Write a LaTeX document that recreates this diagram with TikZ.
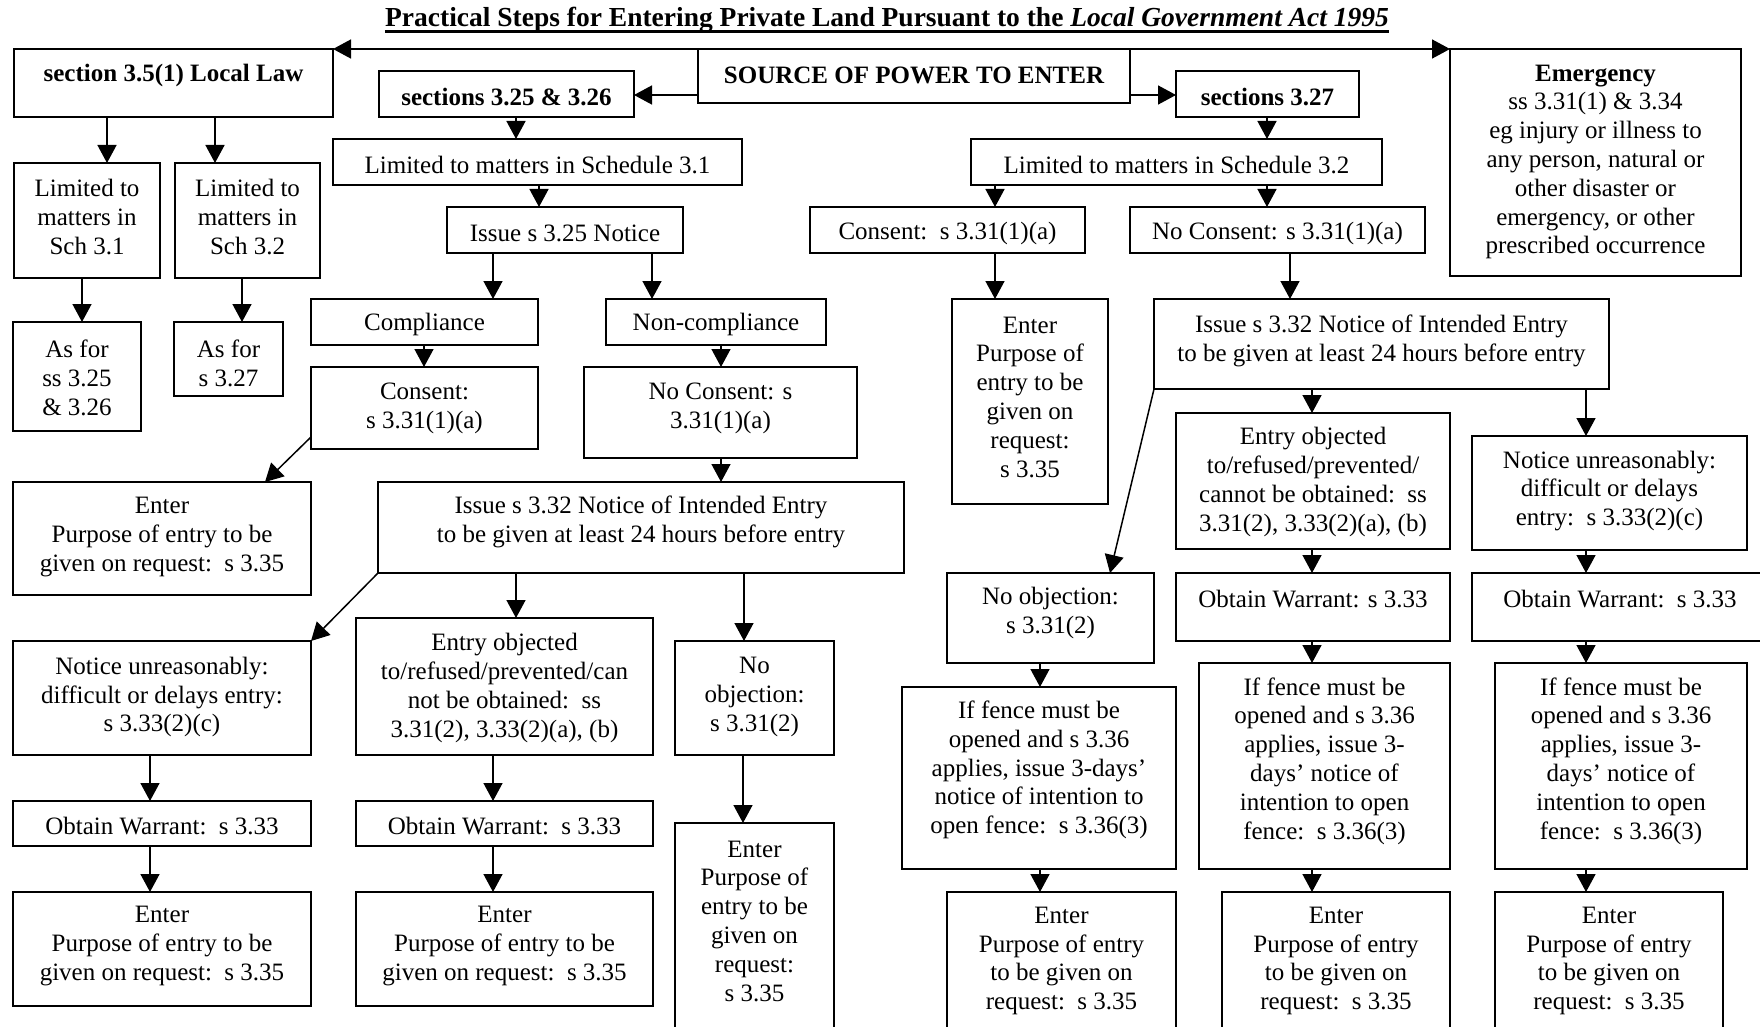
\documentclass[tikz,border=0pt]{standalone}
\usepackage{fontspec}
\setmainfont{Liberation Serif}
\usetikzlibrary{arrows.meta}
\tikzset{
  bx/.style={draw, line width=1.8pt, inner sep=0pt, outer sep=0pt},
  tx/.style={align=center, inner sep=0pt, font=\fontsize{25}{28.8}\selectfont},
  arr/.style={line width=1.5pt, -{Triangle[length=18pt,width=19pt]}},
  darr/.style={line width=1.5pt, {Triangle[length=18pt,width=19pt]}-{Triangle[length=18pt,width=19pt]}},
}
\newcommand\bx[5]{\node[bx, minimum width={(#4)-(#2)}, minimum height={(#5)-(#3)}] (#1) at ({((#2)+(#4))/2},{((#3)+(#5))/2}) {};}
\newcommand\tx[4]{\node[tx] (#1) at (#2.center |- 0,#3) {#4};}
\newcommand\va[3]{\draw[arr] (#1.south -| #3,0) -- (#2.north -| #3,0);}
\begin{document}
\begin{tikzpicture}[x=1pt,y=-1pt]
\useasboundingbox (0,0) rectangle (1760,1027);
\fill[white] (0,0) rectangle (1760,1027);
\clip (0,0) rectangle (1760,1027);

% title
\node[tx, font=\fontsize{27.5}{30}\selectfont\bfseries] (title) at (887,20) {Practical Steps for Entering Private Land Pursuant to the \textit{Local Government Act 1995}};
\draw[line width=2.5pt] ([yshift=-5pt]title.base west) -- ([yshift=-5pt]title.base east);

% boxes
\bx{sec35}{14}{49}{333}{117}
\bx{source}{698}{49}{1130}{103}
\bx{s2526}{379}{71}{634}{117}
\bx{s327}{1176}{71}{1359}{117}
\bx{emerg}{1450}{49}{1741}{276}
\bx{sch31a}{14}{163}{160}{278}
\bx{sch32a}{175}{163}{320}{278}
\bx{asfor1}{13}{322}{141}{431}
\bx{asfor2}{174}{322}{283}{396}
\bx{lim31}{333}{139}{742}{185}
\bx{iss325}{447}{207}{683}{253}
\bx{compl}{311}{299}{538}{345}
\bx{noncompl}{606}{299}{826}{345}
\bx{consent}{311}{367}{538}{449}
\bx{noconsent}{584}{367}{857}{458}
\bx{enterL}{13}{482}{311}{595}
\bx{iss332L}{378}{482}{904}{573}
\bx{noticeL}{13}{641}{311}{755}
\bx{entobjL}{356}{618}{653}{755}
\bx{noobjL}{675}{641}{834}{755}
\bx{warrL}{13}{801}{311}{846}
\bx{warrM}{356}{801}{653}{846}
\bx{enterBL}{13}{892}{311}{1006}
\bx{enterBM}{356}{892}{653}{1006}
\bx{enterBR}{675}{823}{834}{1045}
\bx{lim32}{971}{139}{1382}{185}
\bx{consR}{810}{207}{1085}{253}
\bx{noconsR}{1130}{207}{1425}{253}
\bx{enterR}{952}{299}{1108}{504}
\bx{iss332R}{1154}{299}{1609}{389}
\bx{entobjR}{1176}{413}{1450}{549}
\bx{noticeR}{1472}{436}{1747}{550}
\bx{noobjR}{947}{573}{1154}{663}
\bx{warrRM}{1176}{573}{1450}{641}
\bx{warrR}{1472}{573}{1768}{641}
\bx{fenceA}{902}{687}{1176}{869}
\bx{fenceB}{1199}{663}{1450}{869}
\bx{fenceC}{1495}{663}{1747}{869}
\bx{enterRA}{947}{892}{1176}{1045}
\bx{enterRB}{1222}{892}{1450}{1045}
\bx{enterRC}{1495}{892}{1723}{1045}

% texts
\tx{sec35t}{sec35}{75}{\bfseries section 3.5(1) Local Law}
\tx{sourcet}{source}{75}{\bfseries SOURCE OF POWER TO ENTER}
\tx{s2526t}{s2526}{97}{\bfseries sections 3.25 \& 3.26}
\tx{s327t}{s327}{97}{\bfseries sections 3.27}
\tx{emergt}{emerg}{162}{\textbf{Emergency}\\ss 3.31(1) \& 3.34\\eg injury or illness to\\any person, natural or\\other disaster or\\emergency, or other\\prescribed occurrence}
\tx{sch31at}{sch31a}{217}{Limited to\\matters in\\Sch 3.1}
\tx{sch32at}{sch32a}{217}{Limited to\\matters in\\Sch 3.2}
\tx{asfor1t}{asfor1}{378}{As for\\ss 3.25\\\& 3.26}
\tx{asfor2t}{asfor2}{363}{As for\\s 3.27}
\tx{lim31t}{lim31}{165}{Limited to matters in Schedule 3.1}
\tx{iss325t}{iss325}{233}{Issue s 3.25 Notice}
\tx{complt}{compl}{324}{Compliance}
\tx{noncomplt}{noncompl}{324}{Non-compliance}
\tx{consentt}{consent}{408}{Consent:\\s 3.31(1)(a)}
\tx{noconsentt}{noconsent}{408}{No Consent: s\\3.31(1)(a)}
\tx{enterLt}{enterL}{537}{Enter\\Purpose of entry to be\\given on request:\ \ s 3.35}
\tx{iss332Lt}{iss332L}{522}{Issue s 3.32 Notice of Intended Entry\\to be given at least 24 hours before entry}
\tx{noticeLt}{noticeL}{697}{Notice unreasonably:\\difficult or delays entry:\\s 3.33(2)(c)}
\tx{entobjLt}{entobjL}{688}{Entry objected\\to/refused/prevented/can\\not be obtained:\ \ ss\\3.31(2), 3.33(2)(a), (b)}
\tx{noobjLt}{noobjL}{697}{No\\objection:\\s 3.31(2)}
\tx{warrLt}{warrL}{826}{Obtain Warrant:\ \ s 3.33}
\tx{warrMt}{warrM}{826}{Obtain Warrant:\ \ s 3.33}
\tx{enterBLt}{enterBL}{946}{Enter\\Purpose of entry to be\\given on request:\ \ s 3.35}
\tx{enterBMt}{enterBM}{946}{Enter\\Purpose of entry to be\\given on request:\ \ s 3.35}
\tx{enterBRt}{enterBR}{921}{Enter\\Purpose of\\entry to be\\given on\\request:\\s 3.35}
\tx{lim32t}{lim32}{165}{Limited to matters in Schedule 3.2}
\tx{consRt}{consR}{233}{Consent:\ \ s 3.31(1)(a)}
\tx{noconsRt}{noconsR}{233}{No Consent: s 3.31(1)(a)}
\tx{enterRt}{enterR}{397}{Enter\\Purpose of\\entry to be\\given on\\request:\\s 3.35}
\tx{iss332Rt}{iss332R}{341}{Issue s 3.32 Notice of Intended Entry\\to be given at least 24 hours before entry}
\tx{entobjRt}{entobjR}{482}{Entry objected\\to/refused/prevented/\\cannot be obtained:\ \ ss\\3.31(2), 3.33(2)(a), (b)}
\tx{noticeRt}{noticeR}{491}{Notice unreasonably:\\difficult or delays\\entry:\ \ s 3.33(2)(c)}
\tx{noobjRt}{noobjR}{613}{No objection:\\s 3.31(2)}
\tx{warrRMt}{warrRM}{599}{Obtain Warrant: s 3.33}
\tx{warrRt}{warrR}{599}{Obtain Warrant:\ \ s 3.33}
\tx{fenceAt}{fenceA}{770}{If fence must be\\opened and s 3.36\\applies, issue 3-days’\\notice of intention to\\open fence:\ \ s 3.36(3)}
\tx{fenceBt}{fenceB}{761}{If fence must be\\opened and s 3.36\\applies, issue 3-\\days’ notice of\\intention to open\\fence:\ \ s 3.36(3)}
\tx{fenceCt}{fenceC}{761}{If fence must be\\opened and s 3.36\\applies, issue 3-\\days’ notice of\\intention to open\\fence:\ \ s 3.36(3)}
\tx{enterRAt}{enterRA}{961}{Enter\\Purpose of entry\\to be given on\\request:\ \ s 3.35}
\tx{enterRBt}{enterRB}{961}{Enter\\Purpose of entry\\to be given on\\request:\ \ s 3.35}
\tx{enterRCt}{enterRC}{961}{Enter\\Purpose of entry\\to be given on\\request:\ \ s 3.35}

% connectors
\draw[darr] (sec35.north east) -- (emerg.north west);
\draw[arr] (source.west |- 0,95) -- (s2526.east |- 0,95);
\draw[arr] (source.east |- 0,95) -- (s327.west |- 0,95);
\va{sec35}{sch31a}{107}
\va{sec35}{sch32a}{215}
\va{sch31a}{asfor1}{82}
\va{sch32a}{asfor2}{242}
\va{s2526}{lim31}{516}
\va{lim31}{iss325}{539}
\va{iss325}{compl}{493}
\va{iss325}{noncompl}{652}
\va{compl}{consent}{424}
\va{noncompl}{noconsent}{721}
\draw[arr] (consent.west |- 0,437) -- (enterL.north -| 265,0);
\va{noconsent}{iss332L}{721}
\draw[arr] (iss332L.south west) -- (noticeL.north east);
\va{iss332L}{entobjL}{516}
\va{iss332L}{noobjL}{744}
\va{noticeL}{warrL}{150}
\va{warrL}{enterBL}{150}
\va{entobjL}{warrM}{493}
\va{warrM}{enterBM}{493}
\va{noobjL}{enterBR}{743}
\va{s327}{lim32}{1267}
\va{lim32}{consR}{995}
\va{lim32}{noconsR}{1267}
\va{consR}{enterR}{995}
\va{noconsR}{iss332R}{1290}
\draw[arr] (iss332R.south west) -- (noobjR.north -| 1110,0);
\va{iss332R}{entobjR}{1312}
\va{iss332R}{noticeR}{1586}
\va{entobjR}{warrRM}{1312}
\va{noticeR}{warrR}{1586}
\va{noobjR}{fenceA}{1040}
\va{warrRM}{fenceB}{1312}
\va{warrR}{fenceC}{1586}
\va{fenceA}{enterRA}{1040}
\va{fenceB}{enterRB}{1312}
\va{fenceC}{enterRC}{1586}
\end{tikzpicture}
\end{document}
